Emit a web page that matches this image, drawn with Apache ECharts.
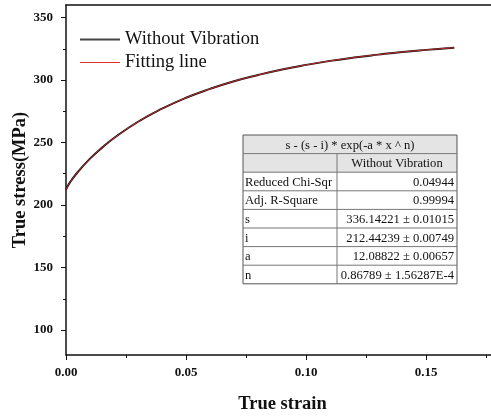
<!DOCTYPE html>
<html>
<head>
<meta charset="utf-8">
<script src="https://cdn.jsdelivr.net/npm/echarts@6/dist/echarts.min.js"></script>
<style>html,body{margin:0;padding:0;background:#fff;}#c{width:491px;height:417px;}</style>
</head>
<body>
<div id="c"></div>
<script>
var strain = [0, 0.001, 0.002, 0.005, 0.01, 0.015, 0.02, 0.03, 0.04, 0.05, 0.06, 0.07, 0.08, 0.09, 0.10, 0.11, 0.12, 0.13, 0.14, 0.15, 0.16, 0.1617];
var stressMeasured = [212.4, 216.1, 219.0, 226.6, 237.1, 245.9, 253.6, 266.6, 277.1, 285.8, 292.9, 299.0, 304.0, 308.4, 312.1, 315.3, 318.0, 320.3, 322.4, 324.1, 325.6, 325.8];
var stressFit = [212.4, 216.1, 219.0, 226.6, 237.1, 245.9, 253.6, 266.6, 277.1, 285.8, 292.9, 299.0, 304.0, 308.4, 312.1, 315.3, 318.0, 320.3, 322.4, 324.1, 325.6, 325.8];
var xTicks = [0, 0.05, 0.10, 0.15];
var yTicks = [100, 150, 200, 250, 300, 350];
var yMinorTicks = [125, 175, 225, 275, 325];
var tableTitle = 's - (s - i) * exp(-a * x ^ n)';
var tableHeader = ['', 'Without Vibration'];
var tableLabels = ['Reduced Chi-Sqr', 'Adj. R-Square', 's', 'i', 'a', 'n'];
var tableValues = ['0.04944', '0.99994', '336.14221 \u00b1 0.01015', '212.44239 \u00b1 0.00749', '12.08822 \u00b1 0.00657', '0.86789 \u00b1 1.56287E-4'];

var FONT = '"Liberation Serif", "Times New Roman", serif';
function pairs(xs, ys){ return xs.map(function(x,i){ return [x, ys[i]]; }); }

// table graphic
var tx = 243, ty = 135, tw = 214, rh = 18.6, cx = 337;
var g = [];
var rows = 2 + tableLabels.length;
g.push({type:'rect', shape:{x:tx, y:ty, width:tw, height:rh*2}, style:{fill:'#e4e4e4'}});
g.push({type:'rect', shape:{x:tx, y:ty, width:tw, height:rh*rows}, style:{fill:'none', stroke:'#555', lineWidth:1}});
for (var r = 1; r < rows; r++) {
  g.push({type:'line', shape:{x1:tx, y1:ty+rh*r, x2:tx+tw, y2:ty+rh*r}, style:{stroke:'#777', lineWidth:1}});
}
g.push({type:'line', shape:{x1:cx, y1:ty+rh, x2:cx, y2:ty+rh*rows}, style:{stroke:'#777', lineWidth:1}});
var TF = '12.6px ' + FONT;
g.push({type:'text', x:tx+tw/2, y:ty+rh/2+1, style:{text:tableTitle, font:TF, fill:'#111', align:'center', verticalAlign:'middle'}});
g.push({type:'text', x:(cx+tx+tw)/2, y:ty+rh*1.5+1, style:{text:tableHeader[1], font:TF, fill:'#111', align:'center', verticalAlign:'middle'}});
for (var k = 0; k < tableLabels.length; k++) {
  var yy = ty + rh*(k+2.5) + 1;
  g.push({type:'text', x:tx+2, y:yy, style:{text:tableLabels[k], font:TF, fill:'#111', align:'left', verticalAlign:'middle'}});
  g.push({type:'text', x:tx+tw-3, y:yy, style:{text:tableValues[k], font:TF, fill:'#111', align:'right', verticalAlign:'middle'}});
}

var chart = echarts.init(document.getElementById('c'));
chart.setOption({
  backgroundColor:'#fff',
  animation:false,
  grid:{left:66, top:5, right:0, bottom:62, containLabel:false, outerBoundsMode:'none'},
  legend:{
    orient:'vertical', left:75, top:25, itemWidth:40, itemHeight:10, itemGap:4,
    textStyle:{fontFamily:FONT, fontSize:18.5, color:'#111'},
    data:[
      {name:'Without Vibration', icon:'path://M0,4 L40,4 L40,6 L0,6 Z', itemStyle:{color:'#444'}},
      {name:'Fitting line', icon:'path://M0,4.6 L40,4.6 L40,5.4 L0,5.4 Z', itemStyle:{color:'#e03030'}}
    ]
  },
  xAxis:[{
    type:'value', min:0, max:0.177, interval:0.05,
    name:'True strain', nameLocation:'middle', nameGap:40, nameMoveOverlap:false,
    nameTextStyle:{fontFamily:FONT, fontSize:18.5, fontWeight:'bold', color:'#111', padding:[0,0,0,8]},
    axisLine:{show:true, onZero:false, lineStyle:{color:'#111', width:1.5}},
    axisTick:{show:true, inside:false, length:5, lineStyle:{color:'#111'}},
    minorTick:{show:true, splitNumber:2, length:3, lineStyle:{color:'#111'}},
    splitLine:{show:false},
    axisLabel:{margin:11, fontFamily:FONT, fontSize:13, fontWeight:'bold', color:'#111', showMaxLabel:false,
      formatter:function(v){ return xTicks.indexOf(Math.round(v*100)/100) >= 0 ? v.toFixed(2) : ''; }}
  },{
    type:'value', position:'top', min:0, max:0.177,
    axisLine:{show:true, onZero:false, lineStyle:{color:'#111', width:1.5}},
    axisTick:{show:false}, axisLabel:{show:false}, splitLine:{show:false}
  }],
  yAxis:[{
    type:'value', min:80, max:360,
    name:'True stress(MPa)', nameLocation:'middle', nameGap:36, nameRotate:90, nameMoveOverlap:false,
    nameTextStyle:{fontFamily:FONT, fontSize:18.5, fontWeight:'bold', color:'#111'},
    axisLine:{show:true, onZero:false, lineStyle:{color:'#111', width:1.5}},
    axisTick:{show:true, inside:false, length:5, customValues:yTicks, lineStyle:{color:'#111'}},
    splitLine:{show:false},
    axisLabel:{margin:13, customValues:yTicks, fontFamily:FONT, fontSize:13, fontWeight:'bold', color:'#111'}
  },{
    type:'value', min:80, max:360, position:'left',
    axisLine:{show:false, onZero:false},
    axisTick:{show:true, inside:false, length:3, customValues:yMinorTicks, lineStyle:{color:'#111'}},
    axisLabel:{show:false}, splitLine:{show:false}
  }],
  series:[
    {name:'Without Vibration', type:'line', data:pairs(strain, stressMeasured), showSymbol:false, symbol:'none', smooth:true,
      lineStyle:{color:'#111', width:2}, itemStyle:{color:'#444'}, z:2},
    {name:'Fitting line', type:'line', data:pairs(strain, stressFit), showSymbol:false, symbol:'none', smooth:true,
      lineStyle:{color:'#e03030', width:1, opacity:0.85}, itemStyle:{color:'#e03030'}, z:3}
  ],
  graphic:g
});
</script>
</body>
</html>
